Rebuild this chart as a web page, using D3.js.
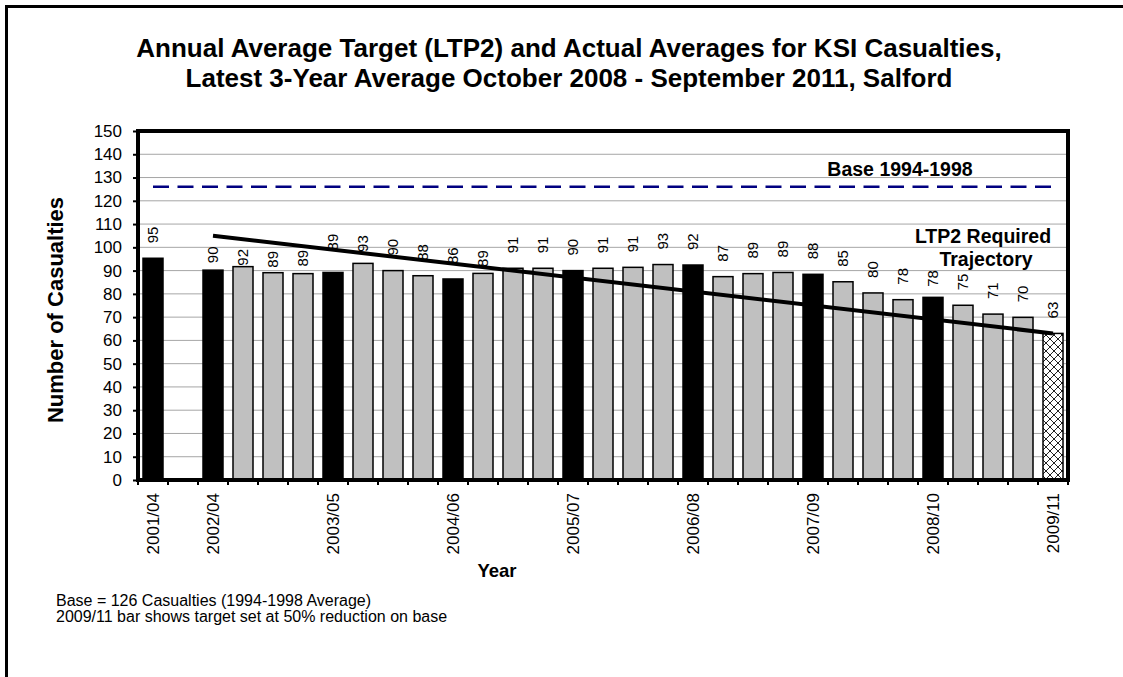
<!doctype html>
<html>
<head>
<script src="https://d3js.org/d3.v7.min.js"></script>
<style>
  body { margin: 0; background: #fff; }
  text { font-family: "Liberation Sans", Arial, sans-serif; }
</style>
</head>
<body>
<script>
// period labels along the x axis (blank = no label shown)
var periodLabels = ["2001/04", "", "2002/04", "", "", "", "2003/05", "", "", "", "2004/06", "", "", "",
    "2005/07", "", "", "", "2006/08", "", "", "", "2007/09", "", "", "", "2008/10", "", "", "", "2009/11"];
// bar heights (null = no bar)
var barValues = [95.3, null, 90.2, 91.7, 89.1, 88.7, 89.2, 93.1, 90.0, 87.8, 86.4, 88.8, 91.0, 91.0,
    90.0, 91.0, 91.4, 92.6, 92.4, 87.4, 88.7, 89.2, 88.4, 85.2, 80.4, 77.5, 78.5, 75.1, 71.3, 69.9, 63.0];
// value labels printed on the bars
var barLabels = [95, null, 90, 92, 89, 89, 89, 93, 90, 88, 86, 89, 91, 91,
    90, 91, 91, 93, 92, 87, 89, 89, 88, 85, 80, 78, 78, 75, 71, 70, 63];
// a = annual average (black), r = rolling average (grey), t = target (hatched)
var barKinds = ["a", "a", "a", "r", "r", "r", "a", "r", "r", "r", "a", "r", "r", "r",
    "a", "r", "r", "r", "a", "r", "r", "r", "a", "r", "r", "r", "a", "r", "r", "r", "t"];
// LTP2 required trajectory, end points
var trajectoryPeriods = ["2002/04", "2009/11"];
var trajectoryValues = [105, 63];
// base 1994-1998
var baseValue = 126;
var yTicks = [0, 10, 20, 30, 40, 50, 60, 70, 80, 90, 100, 110, 120, 130, 140, 150];

var margin = {top: 131, right: 55, bottom: 197, left: 138},
    width = 1123 - margin.left - margin.right,
    height = 677 - margin.top - margin.bottom;

// a few labels were dragged by hand in the original (px, downwards)
var labelNudge = {2: 8, 3: 14, 4: 10, 5: 8, 6: -7, 7: 3.5, 11: 8.5, 26: 4.5};

var root = d3.select("body").append("svg")
    .attr("width", 1123)
    .attr("height", 677);

// outer frame (runs off the page on the right and bottom)
root.append("rect")
    .attr("x", 6.5).attr("y", 6.5)
    .attr("width", 1140).attr("height", 700)
    .attr("fill", "none")
    .attr("stroke", "#000")
    .attr("stroke-width", 3);

var defs = root.append("defs");
var pat = defs.append("pattern")
    .attr("id", "hatch")
    .attr("patternUnits", "userSpaceOnUse")
    .attr("width", 8).attr("height", 8);
pat.append("rect").attr("width", 8).attr("height", 8).attr("fill", "#fff");
pat.append("path").attr("d", "M0,0L8,8M8,0L0,8")
    .attr("stroke", "#222").attr("stroke-width", 1);

// title
var title = root.append("text")
    .attr("x", 569)
    .attr("text-anchor", "middle")
    .attr("font-size", "26px")
    .attr("font-weight", "bold");
title.append("tspan").attr("x", 569).attr("y", 57)
    .text("Annual Average Target (LTP2) and Actual Averages for KSI Casualties,");
title.append("tspan").attr("x", 569).attr("y", 87)
    .text("Latest 3-Year Average October 2008 - September 2011, Salford");

var svg = root.append("g")
    .attr("transform", "translate(" + margin.left + "," + margin.top + ")");

var idx = d3.range(periodLabels.length);
var x = d3.scaleBand().domain(idx).range([0, width]).paddingInner(1 / 3).paddingOuter(1 / 6);
var xb = d3.scaleBand().domain(idx).range([0, width]);
var y = d3.scaleLinear().domain([0, 150]).range([height, 0]);

// gridlines
svg.append("g")
    .selectAll("line")
    .data(yTicks.filter(function(d) { return d > 0 && d < 150; }))
    .enter().append("line")
    .attr("x1", 0).attr("x2", width)
    .attr("y1", function(d) { return y(d); })
    .attr("y2", function(d) { return y(d); })
    .attr("stroke", "#a6a6a6")
    .attr("stroke-width", 1);

// bars
svg.selectAll(".bar")
    .data(idx.filter(function(i) { return barValues[i] != null; }))
    .enter().append("rect")
    .attr("class", "bar")
    .attr("x", function(i) { return x(i); })
    .attr("y", function(i) { return y(barValues[i]); })
    .attr("width", x.bandwidth())
    .attr("height", function(i) { return height - y(barValues[i]); })
    .attr("fill", function(i) {
        return barKinds[i] == "a" ? "#000" : (barKinds[i] == "t" ? "url(#hatch)" : "#c0c0c0");
    })
    .attr("stroke", "#000")
    .attr("stroke-width", 1.5);

// value labels
svg.selectAll(".vlabel")
    .data(idx.filter(function(i) { return barLabels[i] != null; }))
    .enter().append("text")
    .attr("class", "vlabel")
    .attr("transform", function(i) {
        var ly = y(barValues[i]) - 15 + (labelNudge[i] || 0);
        return "translate(" + (x(i) + x.bandwidth() / 2) + "," + ly + ") rotate(-90)";
    })
    .attr("dy", "0.35em")
    .attr("font-size", "15px")
    .text(function(i) { return barLabels[i]; });

// base line
var cx = function(i) { return xb(i) + xb.bandwidth() / 2; };
svg.append("line")
    .attr("x1", cx(0)).attr("x2", cx(idx.length - 1))
    .attr("y1", y(baseValue)).attr("y2", y(baseValue))
    .attr("stroke", "#000080")
    .attr("stroke-width", 2.5)
    .attr("stroke-dasharray", "16,8.5");

svg.append("text")
    .attr("x", 900 - margin.left)
    .attr("y", 176 - margin.top)
    .attr("text-anchor", "middle")
    .attr("font-size", "19.5px")
    .attr("font-weight", "bold")
    .text("Base 1994-1998");

// trajectory
var traj = trajectoryPeriods.map(function(p, k) {
    return [cx(periodLabels.indexOf(p)), y(trajectoryValues[k])];
});
svg.append("path")
    .attr("d", d3.line()(traj))
    .attr("stroke", "#000")
    .attr("stroke-width", 4)
    .attr("fill", "none");

var tl = svg.append("text")
    .attr("text-anchor", "middle")
    .attr("font-size", "19.5px")
    .attr("font-weight", "bold");
tl.append("tspan").attr("x", 983 - margin.left).attr("y", 243 - margin.top).text("LTP2 Required");
tl.append("tspan").attr("x", 986 - margin.left).attr("y", 266 - margin.top).text("Trajectory");

// plot frame
svg.append("rect")
    .attr("width", width).attr("height", height)
    .attr("fill", "none")
    .attr("stroke", "#000")
    .attr("stroke-width", 4);

// y axis
var yAxis = svg.append("g")
    .call(d3.axisLeft(y).tickValues(yTicks).tickSize(5).tickPadding(11));
yAxis.select(".domain").remove();
yAxis.selectAll("line").attr("stroke", "#000").attr("stroke-width", 2);
yAxis.selectAll("text")
    .attr("font-size", "17px")
    .attr("font-family", "'Liberation Sans', Arial, sans-serif")
    .attr("fill", "#000");

// x axis: ticks at period boundaries
var xTicks = svg.append("g").attr("transform", "translate(0," + height + ")");
xTicks.selectAll("line")
    .data(d3.range(periodLabels.length + 1))
    .enter().append("line")
    .attr("x1", function(i) { return i * xb.step(); })
    .attr("x2", function(i) { return i * xb.step(); })
    .attr("y1", 0).attr("y2", 5)
    .attr("stroke", "#000")
    .attr("stroke-width", 2);

xTicks.selectAll("text")
    .data(idx.filter(function(i) { return periodLabels[i] != ""; }))
    .enter().append("text")
    .attr("transform", function(i) { return "translate(" + cx(i) + ",13) rotate(-90)"; })
    .attr("text-anchor", "end")
    .attr("dy", "0.35em")
    .attr("font-size", "17px")
    .text(function(i) { return periodLabels[i]; });

// axis titles
root.append("text")
    .attr("x", 497).attr("y", 577)
    .attr("text-anchor", "middle")
    .attr("font-size", "18.5px")
    .attr("font-weight", "bold")
    .text("Year");

root.append("text")
    .attr("transform", "translate(63,310) rotate(-90)")
    .attr("text-anchor", "middle")
    .attr("font-size", "22px")
    .attr("font-weight", "bold")
    .text("Number of Casualties");

// footnote
var note = root.append("text").attr("font-size", "16px");
note.append("tspan").attr("x", 56).attr("y", 606).text("Base = 126 Casualties (1994-1998 Average)");
note.append("tspan").attr("x", 56).attr("y", 622).text("2009/11 bar shows target set at 50% reduction on base");
</script>
</body>
</html>
